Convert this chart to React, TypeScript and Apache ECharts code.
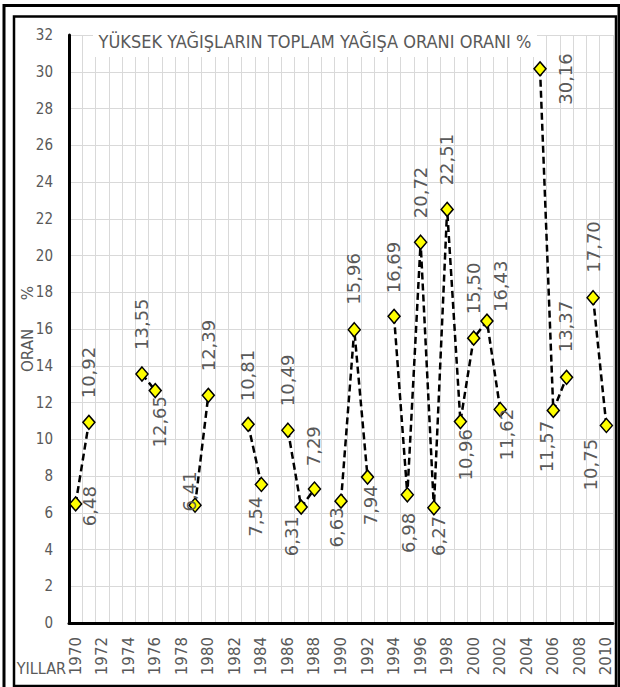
import React, { useEffect, useRef } from "react";
import * as echarts from "echarts";

// Years on the category axis
const years = [
  "1970", "1971", "1972", "1973", "1974", "1975", "1976", "1977", "1978", "1979",
  "1980", "1981", "1982", "1983", "1984", "1985", "1986", "1987", "1988", "1989",
  "1990", "1991", "1992", "1993", "1994", "1995", "1996", "1997", "1998", "1999",
  "2000", "2001", "2002", "2003", "2004", "2005", "2006", "2007", "2008", "2009",
  "2010",
];

// Share of heavy rainfall in total rainfall (%), null = no record
const ratios: (number | null)[] = [
  6.48, 10.92, null, null, null, 13.55, 12.65, null, null, 6.41,
  12.39, null, null, 10.81, 7.54, null, 10.49, 6.31, 7.29, null,
  6.63, 15.96, 7.94, null, 16.69, 6.98, 20.72, 6.27, 22.51, 10.96,
  15.5, 16.43, 11.62, null, null, 30.16, 11.57, 13.37, null, 17.7,
  10.75,
];

// Y axis ticks
const yMin = 0;
const yMax = 32;
const yStep = 2;

const titleText = "YÜKSEK YAĞIŞLARIN TOPLAM YAĞIŞA ORANI ORANI %";
const yName = "ORAN\u00a0\u00a0\u00a0\u00a0\u00a0\u00a0%";
const xName = "YILLAR";

// Where each value label sits, centre offset from its marker [dx, dy] in px
const labelOffsets: Record<string, [number, number]> = {
  "1970": [15, 3],
  "1971": [0, -49],
  "1975": [0, -49],
  "1976": [5, 32],
  "1979": [-5, -13],
  "1980": [1, -49],
  "1983": [0, -48],
  "1984": [-5, 33],
  "1986": [0, -49],
  "1987": [-9, 30],
  "1988": [0, -42],
  "1990": [-4, 27],
  "1991": [0, -50],
  "1992": [4, 29],
  "1994": [0, -48],
  "1995": [2, 39],
  "1996": [1, -49],
  "1997": [5, 29],
  "1998": [0, -49],
  "1999": [6, 34],
  "2000": [1, -49],
  "2001": [14, -34],
  "2002": [7, 26],
  "2005": [26, 11],
  "2006": [-6, 37],
  "2007": [0, -50],
  "2009": [1, -50],
  "2010": [-15, 40],
};

const SYMBOL_W = 12;
const SYMBOL_H = 14;
const GREY = "#595959";
const NARROW = "'Liberation Sans Narrow', 'DejaVu Sans Condensed', 'Liberation Sans', sans-serif";
const WIDE = "'DejaVu Sans', 'Liberation Sans', sans-serif";

export default function App() {
  const ref = useRef<HTMLDivElement>(null);

  useEffect(() => {
    if (!ref.current) return;
    const chart = echarts.init(ref.current, undefined, { renderer: "svg" });

    const seriesData = ratios.map((v, i) => {
      if (v == null) return null;
      const off = labelOffsets[years[i]] || [0, -48];
      return {
        value: v,
        label: {
          position: [SYMBOL_W / 2 + off[0], SYMBOL_H / 2 + off[1]],
        },
      };
    });

    chart.setOption({
      animation: false,
      backgroundColor: "#ffffff",
      grid: { left: 69, right: 7, top: 35, bottom: 64, containLabel: false },
      xAxis: {
        type: "category",
        data: years,
        boundaryGap: true,
        axisLine: { show: true, lineStyle: { color: "#000000", width: 3 } },
        axisTick: { show: false },
        axisLabel: {
          interval: 1,
          rotate: 90,
          margin: 14,
          color: GREY,
          fontFamily: WIDE,
          fontSize: 15,
        },
        splitLine: { show: true, interval: 0, lineStyle: { color: "#d9d9d9", width: 1 } },
      },
      yAxis: {
        type: "value",
        min: yMin,
        max: yMax,
        interval: yStep,
        name: yName,
        nameLocation: "middle",
        nameGap: 34,
        nameMoveOverlap: false,
        nameRotate: 90,
        nameTextStyle: { color: GREY, fontFamily: WIDE, fontSize: 15 },
        axisLine: { show: true, lineStyle: { color: "#000000", width: 3 } },
        axisTick: { show: false },
        axisLabel: { color: GREY, fontFamily: NARROW, fontSize: 15, margin: 16 },
        splitLine: { show: true, lineStyle: { color: "#d9d9d9", width: 1 } },
      },
      series: [
        {
          type: "line",
          data: seriesData,
          connectNulls: false,
          showAllSymbol: true,
          symbol: "diamond",
          symbolSize: [SYMBOL_W, SYMBOL_H],
          itemStyle: { color: "#ffff00", borderColor: "#000000", borderWidth: 1.5 },
          lineStyle: { color: "#000000", width: 2.5, type: [7, 4] },
          label: {
            show: true,
            rotate: 90,
            align: "center",
            verticalAlign: "middle",
            color: GREY,
            fontFamily: WIDE,
            fontSize: 18,
            formatter: (p: any) => Number(p.value).toFixed(2).replace(".", ","),
          },
          z: 5,
        },
      ],
      graphic: [
        {
          type: "rect",
          z: 100,
          shape: { x: 4, y: 5.5, width: 615, height: 700 },
          style: { fill: "none", stroke: "#000000", lineWidth: 3 },
          silent: true,
        },
        {
          type: "rect",
          z: 100,
          shape: { x: 14, y: 16.5, width: 602, height: 669.5 },
          style: { fill: "none", stroke: "#000000", lineWidth: 2.5 },
          silent: true,
        },
        {
          type: "rect",
          z: 100,
          shape: { x: 93, y: 19, width: 444, height: 38 },
          style: { fill: "#ffffff" },
          silent: true,
        },
        {
          type: "text",
          z: 101,
          x: 315,
          y: 41,
          style: {
            text: titleText,
            fill: GREY,
            font: `18px ${NARROW}`,
            textAlign: "center",
            textVerticalAlign: "middle",
          },
          silent: true,
        },
        {
          type: "text",
          z: 101,
          x: 66,
          y: 668,
          style: {
            text: xName,
            fill: GREY,
            font: `16px ${NARROW}`,
            textAlign: "right",
            textVerticalAlign: "middle",
          },
          silent: true,
        },
      ],
    });

    return () => chart.dispose();
  }, []);

  return (
    <div
      ref={ref}
      style={{ position: "fixed", left: 0, top: 0, width: 620, height: 687 }}
    />
  );
}
